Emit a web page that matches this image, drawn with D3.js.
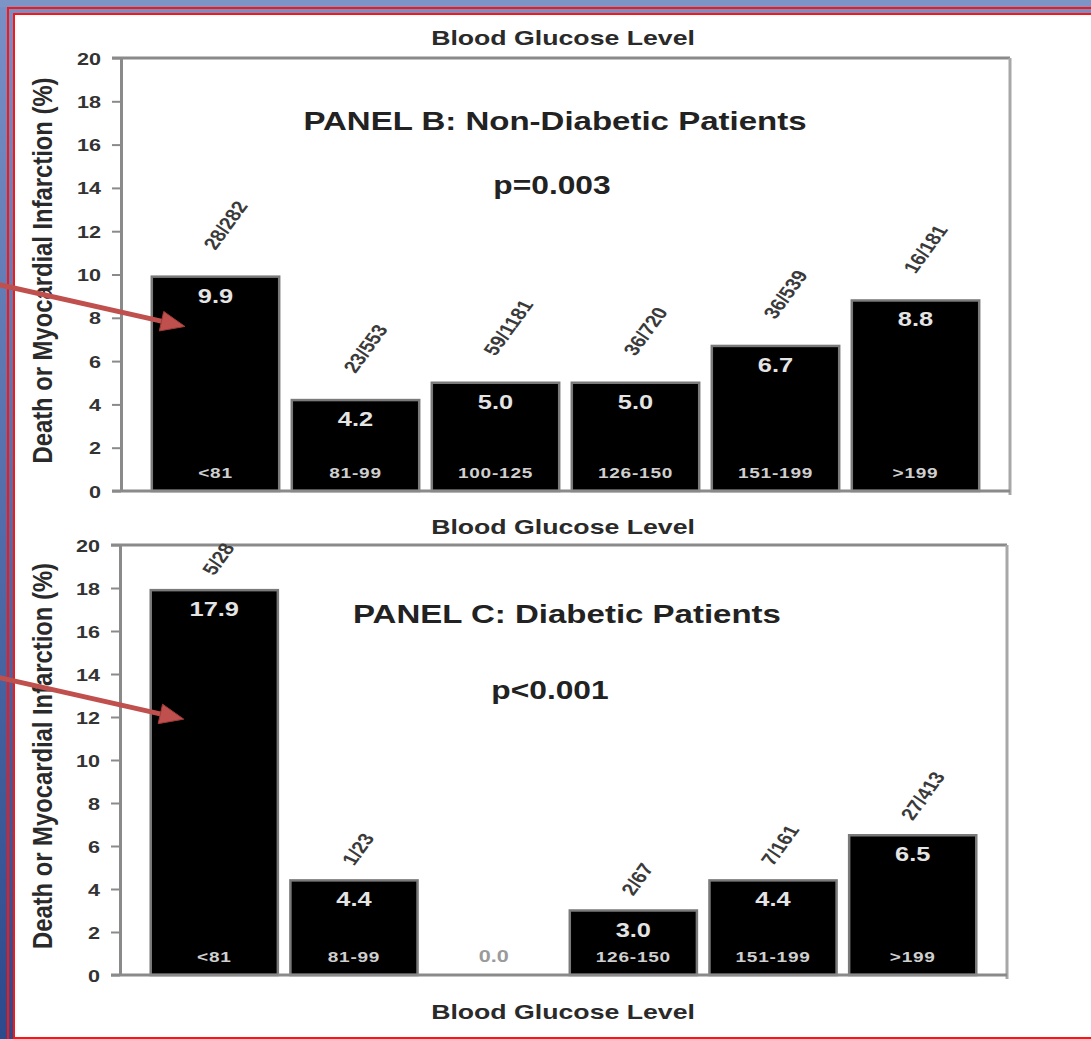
<!DOCTYPE html>
<html>
<head>
<meta charset="utf-8">
<script src="https://cdn.jsdelivr.net/npm/d3@7"></script>
<style>
  body { margin: 0; background: #fff; overflow: hidden; }
  svg { display: block; }
</style>
</head>
<body>
<script>
(function() {
    'use strict';

    // chart data
    const categories = ["<81", "81-99", "100-125", "126-150", "151-199", ">199"];
    const nonDiabeticRates = [9.9, 4.2, 5.0, 5.0, 6.7, 8.8];
    const nonDiabeticCounts = ["28/282", "23/553", "59/1181", "36/720", "36/539", "16/181"];
    const diabeticRates = [17.9, 4.4, 0.0, 3.0, 4.4, 6.5];
    const diabeticCounts = ["5/28", "1/23", "", "2/67", "7/161", "27/413"];
    const yTicks = [0, 2, 4, 6, 8, 10, 12, 14, 16, 18, 20];
    const panelTitles = ["PANEL B: Non-Diabetic Patients", "PANEL C: Diabetic Patients"];
    const pValues = ["p=0.003", "p<0.001"];
    const xTitle = "Blood Glucose Level";
    const yTitle = "Death or Myocardial Infarction (%)";

    const width = 1091;
    const height = 1039;
    const SX = 1.27;   // the slide picture is stretched sideways
    const axisColor = "#8a8a8a";
    const font = "'Liberation Sans', Arial, sans-serif";

    let svg = d3.select("body").append("svg")
        .attr("width", width)
        .attr("height", height)
        .style("font-family", font);

    // slide background + red double border
    let defs = svg.append("defs");
    let grad = defs.append("linearGradient").attr("id", "slideBg")
        .attr("x1", 0).attr("y1", 0).attr("x2", 0).attr("y2", 1);
    grad.append("stop").attr("offset", "0%").attr("stop-color", "#7890c6");
    grad.append("stop").attr("offset", "100%").attr("stop-color", "#2c4a8c");
    svg.append("rect").attr("width", width).attr("height", height).attr("fill", "url(#slideBg)");
    svg.append("rect").attr("x", 0).attr("y", 0).attr("width", width).attr("height", 7).attr("fill", "#7d94c6");
    svg.append("rect").attr("x", 14).attr("y", 14).attr("width", width).attr("height", height)
        .attr("fill", "#fff");
    svg.append("rect").attr("x", 8).attr("y", 8).attr("width", width + 20).attr("height", height + 20)
        .attr("fill", "none").attr("stroke", "#ff1414").attr("stroke-width", 2);
    svg.append("rect").attr("x", 14).attr("y", 14).attr("width", width + 20).attr("height", 1024)
        .attr("fill", "none").attr("stroke", "#ff1414").attr("stroke-width", 2);

    function stretched(sel, x, y, rest) {
        return sel.attr("transform", "translate(" + x + "," + y + ") scale(" + SX + ",1)" + (rest || ""));
    }

    let panels = [
        { rates: nonDiabeticRates, counts: nonDiabeticCounts, title: panelTitles[0], p: pValues[0],
          top: 58, bottom: 491, left: 121, right: 1010,
          titleX: 555, titleY: 130, pX: 552, pY: 194, countGap: 26, arrowValue: 7.6,
          xTitles: [45] },
        { rates: diabeticRates, counts: diabeticCounts, title: panelTitles[1], p: pValues[1],
          top: 545, bottom: 975, left: 120, right: 1007,
          titleX: 567, titleY: 623, pX: 550, pY: 699, countGap: 14, arrowValue: 11.9,
          xTitles: [534, 1019] }
    ];

    panels.forEach(function(pn) {
        let rows = categories.map(function(c, i) {
            return { cat: c, rate: pn.rates[i], count: pn.counts[i] };
        });

        let x = d3.scaleBand().domain(categories)
            .range([pn.left, pn.right])
            .paddingInner(0.09)
            .paddingOuter(0.22);
        let y = d3.scaleLinear().domain([0, 20]).range([pn.bottom, pn.top]);

        let g = svg.append("g");

        // frame
        g.append("line").attr("x1", pn.left - 9).attr("x2", pn.right).attr("y1", y(20)).attr("y2", y(20))
            .attr("stroke", axisColor).attr("stroke-width", 3);
        g.append("line").attr("x1", pn.right).attr("x2", pn.right).attr("y1", y(20)).attr("y2", y(0) + 4)
            .attr("stroke", "#a8a8a8").attr("stroke-width", 3);

        // bars
        g.selectAll("rect.bar").data(rows.filter(function(d) { return d.rate > 0; }))
            .join("rect")
            .attr("class", "bar")
            .attr("x", function(d) { return x(d.cat); })
            .attr("y", function(d) { return y(d.rate); })
            .attr("width", x.bandwidth())
            .attr("height", function(d) { return y(0) - y(d.rate); })
            .attr("fill", "#000")
            .attr("stroke", "#7a7a7a")
            .attr("stroke-width", 2.5);

        // value inside bar
        rows.forEach(function(d) {
            let cx = x(d.cat) + x.bandwidth() / 2;
            if (d.rate > 0) {
                stretched(g.append("text"), cx, y(d.rate) + 26)
                    .attr("text-anchor", "middle").attr("font-size", 20).attr("font-weight", "bold")
                    .attr("fill", "#e4e4e4").text(d.rate.toFixed(1));
                stretched(g.append("text"), cx, y(0) - 13)
                    .attr("text-anchor", "middle").attr("font-size", 15).attr("font-weight", "bold")
                    .attr("letter-spacing", 0.6)
                    .attr("fill", "#cfcfcf").text(d.cat);
            } else {
                stretched(g.append("text"), cx, y(0) - 13)
                    .attr("text-anchor", "middle").attr("font-size", 17).attr("font-weight", "bold")
                    .attr("fill", "#9a9a9a").text(d.rate.toFixed(1));
            }
            if (d.count) {
                stretched(g.append("text"), cx, y(d.rate) - pn.countGap, " rotate(-60)")
                    .attr("text-anchor", "start").attr("font-size", 17).attr("font-weight", "bold")
                    .attr("fill", "#3a3a3a").text(d.count);
            }
        });

        // x axis baseline
        g.append("line").attr("x1", pn.left - 9).attr("x2", pn.right).attr("y1", y(0)).attr("y2", y(0))
            .attr("stroke", axisColor).attr("stroke-width", 3);

        // y axis
        let axis = g.append("g")
            .attr("transform", "translate(" + pn.left + ",0)")
            .call(d3.axisLeft(y).tickValues(yTicks).tickSize(9).tickSizeOuter(0));
        axis.select(".domain").attr("stroke", axisColor).attr("stroke-width", 3);
        axis.selectAll(".tick line").attr("stroke", axisColor).attr("stroke-width", 2);
        axis.selectAll(".tick text")
            .attr("x", null).attr("dy", null)
            .attr("transform", "translate(-20,6) scale(" + SX + ",1)")
            .attr("font-family", font).attr("font-size", 17).attr("font-weight", "bold")
            .attr("fill", "#333");

        // titles
        stretched(g.append("text"), pn.titleX, pn.titleY)
            .attr("text-anchor", "middle").attr("font-size", 26).attr("font-weight", "bold")
            .attr("fill", "#222").text(pn.title);
        stretched(g.append("text"), pn.pX, pn.pY)
            .attr("text-anchor", "middle").attr("font-size", 25).attr("font-weight", "bold")
            .attr("fill", "#222").text(pn.p);
        pn.xTitles.forEach(function(ty) {
            stretched(g.append("text"), 563, ty)
                .attr("text-anchor", "middle").attr("font-size", 21).attr("font-weight", "bold")
                .attr("fill", "#2a2a2a").text(xTitle);
        });
        stretched(g.append("text"), 52, (y(0) + y(20)) / 2 - 4, " rotate(-90)")
            .attr("text-anchor", "middle").attr("font-size", 22).attr("font-weight", "bold")
            .attr("textLength", 386).attr("lengthAdjust", "spacingAndGlyphs")
            .attr("fill", "#2a2a2a").text(yTitle);

        // red pointer arrow into the first bar
        let tip = { x: x(categories[0]) + x.bandwidth() * 0.26, y: y(pn.arrowValue) };
        let tail = { x: tip.x - 200, y: tip.y - 45 };
        let ang = Math.atan2(tip.y - tail.y, tip.x - tail.x);
        let ux = Math.cos(ang), uy = Math.sin(ang);
        let headLen = 24, headW = 10;
        let bx = tip.x - ux * headLen, by = tip.y - uy * headLen;
        g.append("line").attr("x1", tail.x).attr("y1", tail.y).attr("x2", bx + ux * 2).attr("y2", by + uy * 2)
            .attr("stroke", "#c0504d").attr("stroke-width", 5);
        g.append("path")
            .attr("d", "M" + tip.x + "," + tip.y +
                "L" + (bx - uy * headW) + "," + (by + ux * headW) +
                "L" + (bx + uy * headW) + "," + (by - ux * headW) + "Z")
            .attr("fill", "#c0504d").attr("stroke", "#9c3b38").attr("stroke-width", 1);
    });
})();
</script>
</body>
</html>
